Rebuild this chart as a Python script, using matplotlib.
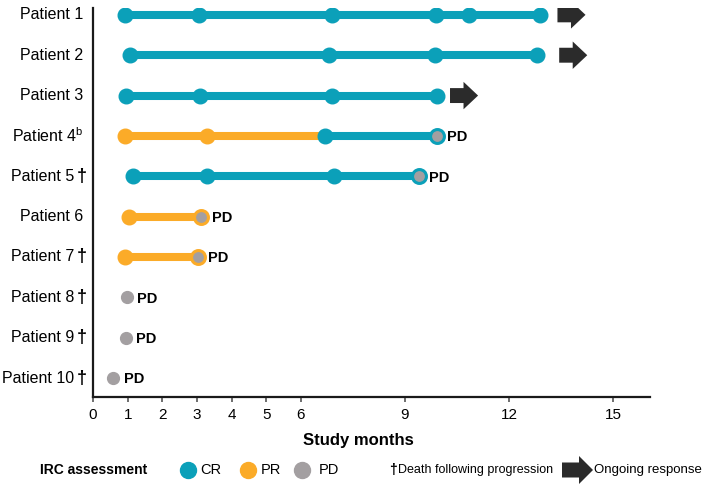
import matplotlib.pyplot as plt
from matplotlib.patches import FancyArrow
from matplotlib.transforms import blended_transform_factory

plt.rcParams['font.family'] = ['Liberation Sans', 'DejaVu Sans']
plt.rcParams['mathtext.fontset'] = 'custom'
plt.rcParams['mathtext.rm'] = 'Liberation Sans'

# ---- data ----
patients = ["Patient 1", "Patient 2", "Patient 3", "Patient 4", "Patient 5",
            "Patient 6", "Patient 7", "Patient 8", "Patient 9", "Patient 10"]
superscripts = ["", "", "", "b", "", "", "", "", "", ""]
died = [False, False, False, False, True, False, True, True, True, True]

# assessment times (study months) and IRC response at each
p1_months = [0.92, 3.06, 6.9, 9.91, 10.85, 12.9]
p1_resp = ["CR", "CR", "CR", "CR", "CR", "CR"]
p2_months = [1.07, 6.8, 9.86, 12.8]
p2_resp = ["CR", "CR", "CR", "CR"]
p3_months = [0.95, 3.1, 6.9, 9.92]
p3_resp = ["CR", "CR", "CR", "CR"]
p4_months = [0.92, 3.28, 6.69, 9.92]
p4_resp = ["PR", "PR", "CR", "PD"]
p5_months = [1.16, 3.28, 6.96, 9.4]
p5_resp = ["CR", "CR", "CR", "PD"]
p6_months = [1.05, 3.13]
p6_resp = ["PR", "PD"]
p7_months = [0.92, 3.03]
p7_resp = ["PR", "PD"]
p8_months = [0.97]
p8_resp = ["PD"]
p9_months = [0.95]
p9_resp = ["PD"]
p10_months = [0.58]
p10_resp = ["PD"]

months = [p1_months, p2_months, p3_months, p4_months, p5_months,
          p6_months, p7_months, p8_months, p9_months, p10_months]
responses = [p1_resp, p2_resp, p3_resp, p4_resp, p5_resp,
             p6_resp, p7_resp, p8_resp, p9_resp, p10_resp]

# ongoing response arrows (start month), None = no arrow
ongoing_start = [13.4, 13.45, 10.3, None, None, None, None, None, None, None]

xticks = [0, 1, 2, 3, 4, 5, 6, 9, 12, 15]

colors = {"CR": "#0ba0b9", "PR": "#fbab28", "PD": "#a39fa1"}
arrow_col = "#2b2b2b"

# ---- figure ----
fig = plt.figure(figsize=(7.09, 4.92), dpi=100)
ax = fig.add_axes([93 / 709, 1 - 397 / 492, 557 / 709, 389 / 492])

for i, (m, r) in enumerate(zip(months, responses)):
    y = i + 1
    for j in range(len(m) - 1):
        ax.plot([m[j], m[j + 1]], [y, y], color=colors[r[j]], lw=5.8,
                solid_capstyle='butt', zorder=1)
    for j in range(len(m)):
        if r[j] == "PD":
            if j > 0:
                ax.plot(m[j], y, 'o', ms=10, mfc=colors["PD"],
                        mec=colors[r[j - 1]], mew=2.2, zorder=3)
            else:
                ax.plot(m[j], y, 'o', ms=8.5, color=colors["PD"], zorder=3)
        else:
            ax.plot(m[j], y, 'o', ms=10.5, color=colors[r[j]], zorder=2)
    if r[-1] == "PD":
        ax.annotate("PD", (m[-1], y), xytext=(7.5, -1), textcoords='offset points',
                    va='center', ha='left', fontsize=10.5, fontweight='bold')
    if ongoing_start[i] is not None:
        ax.add_patch(FancyArrow(ongoing_start[i], y, 0.81, 0, width=0.37,
                                head_width=0.68, head_length=0.42,
                                length_includes_head=True, color=arrow_col,
                                lw=0, zorder=2))

# patient labels
trans = blended_transform_factory(ax.transAxes, ax.transData)
for i, name in enumerate(patients):
    y = i + 1
    txt = name
    if superscripts[i]:
        txt = name + "$^{\\mathrm{" + superscripts[i] + "}}$"
    if died[i]:
        ax.annotate(txt, (0, y), xycoords=trans, xytext=(-13.5, 0),
                    textcoords='offset points', ha='right', va='center',
                    fontsize=11.5)
        ax.annotate("\u2020", (0, y), xycoords=trans, xytext=(-4.5, 0),
                    textcoords='offset points', ha='right', va='center',
                    fontsize=13, fontweight='bold')
    else:
        ax.annotate(txt, (0, y), xycoords=trans, xytext=(-7.2, 0),
                    textcoords='offset points', ha='right', va='center',
                    fontsize=11.5)

ax.set_xlim(0, 16.07)
ax.set_ylim(10.47, 0.83)
ax.set_xticks(xticks)
ax.set_yticks([])
ax.tick_params(axis='x', direction='out', length=3.6, width=1.2,
               color='#555555', labelsize=11, pad=4)
for s in ['top', 'right']:
    ax.spines[s].set_visible(False)
for s in ['left', 'bottom']:
    ax.spines[s].set_linewidth(1.6)
    ax.spines[s].set_color('#1a1a1a')

fig.text(358 / 709, 1 - 441 / 492, "Study months", ha='center', va='center',
         fontsize=12, fontweight='bold')

# ---- legend (pixel coordinates overlay) ----
lax = fig.add_axes([0, 0, 1, 1], zorder=-1)
lax.set_xlim(0, 709)
lax.set_ylim(492, 0)
lax.axis('off')
ly = 470
lax.text(40, ly, "IRC assessment", ha='left', va='center', fontsize=10,
         fontweight='bold')
for lab, cx, tx in [("CR", 188, 200), ("PR", 248, 261), ("PD", 302, 319)]:
    lax.plot(cx, ly, 'o', ms=11.5, color=colors[lab])
    lax.text(tx, ly, lab, ha='left', va='center', fontsize=10.5)
lax.text(389, ly, "\u2020", ha='left', va='center', fontsize=10,
         fontweight='bold')
lax.text(398, ly, "Death following progression", ha='left', va='center',
         fontsize=9)
lax.add_patch(FancyArrow(562, ly, 31, 0, width=15, head_width=28,
                         head_length=14, length_includes_head=True,
                         color=arrow_col, lw=0))
lax.text(594, ly, "Ongoing response", ha='left', va='center', fontsize=9.5)

fig.savefig("out.png", dpi=100)
